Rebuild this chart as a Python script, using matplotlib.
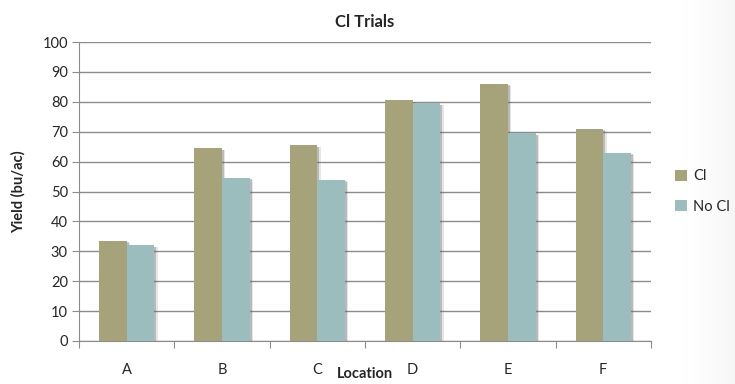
import numpy as np
import matplotlib
matplotlib.use('Agg')
import matplotlib.pyplot as plt
import matplotlib.patheffects as pe

plt.rcParams['font.family'] = ['Lato', 'DejaVu Sans']

# 各地點產量 (bu/ac)
locations = ['A', 'B', 'C', 'D', 'E', 'F']
cl_yield = [33.5, 64.5, 65.5, 80.5, 86, 71]
nocl_yield = [32, 54.5, 54, 79.5, 69.5, 63]
y_ticks = [0, 10, 20, 30, 40, 50, 60, 70, 80, 90, 100]

cl_color = '#A6A27A'
nocl_color = '#9CBDBD'
grid_color = '#8C8C8C'
text_color = '#262626'

fig = plt.figure(figsize=(7.35, 3.84), dpi=100)

# 右側淡灰漸層背景
bg = fig.add_axes([0, 0, 1, 1], zorder=-10)
grad = np.linspace(0, 1, 300)
grad = np.clip((grad - 0.92) / 0.08, 0, 1) ** 1.5
bg.imshow(grad[np.newaxis, :], aspect='auto', cmap='Greys', vmin=0, vmax=14,
          extent=[0, 1, 0, 1])
bg.set_axis_off()

ax = fig.add_axes([0.1075, 0.112, 0.778, 0.7785])
ax.patch.set_alpha(0)

x = np.arange(len(locations))
w = 0.29
# 柔和陰影: 疊兩層淡灰
shadow = [pe.SimplePatchShadow(offset=(2.5, -1.5), shadow_rgbFace='#777777', alpha=0.18),
          pe.SimplePatchShadow(offset=(1.5, -1), shadow_rgbFace='#555555', alpha=0.3),
          pe.Normal()]
b1 = ax.bar(x - w / 2, cl_yield, w, color=cl_color, label='Cl', zorder=3)
b2 = ax.bar(x + w / 2, nocl_yield, w, color=nocl_color, label='No Cl', zorder=3)
for b in list(b1) + list(b2):
    b.set_path_effects(shadow)

ax.set_xlim(-0.5, len(locations) - 0.5)
ax.set_ylim(0, 100)
ax.set_yticks(y_ticks)
ax.yaxis.grid(True, color=grid_color, linewidth=1.0, zorder=0)
ax.set_axisbelow(True)

# x 軸刻度放在類別分界
ax.set_xticks(np.arange(len(locations) + 1) - 0.5, minor=False)
ax.set_xticklabels([])
ax.set_xticks(x, minor=True)
ax.set_xticklabels(locations, minor=True)
ax.tick_params(axis='x', which='major', length=5, color=grid_color, direction='out')
ax.tick_params(axis='x', which='minor', length=0, pad=16, labelsize=10.5, labelcolor=text_color)
ax.tick_params(axis='y', length=5, color=grid_color, labelsize=10.5, labelcolor=text_color, pad=3)

for s in ['top', 'right']:
    ax.spines[s].set_visible(False)
for s in ['left', 'bottom']:
    ax.spines[s].set_color(grid_color)

ax.set_title('Cl Trials', fontsize=12, fontweight='bold', color=text_color, pad=11)
ax.set_xlabel('Location', fontsize=10.5, fontweight='bold', color=text_color, labelpad=-7)
ax.set_ylabel('Yield (bu/ac)', fontsize=10.5, fontweight='bold', color=text_color, labelpad=12)

leg = ax.legend(loc='center left', bbox_to_anchor=(1.02, 0.5), frameon=False, fontsize=10.5,
                handlelength=0.8, handleheight=0.8, handletextpad=0.4, labelspacing=1.1,
                labelcolor=text_color)
for h in leg.legend_handles:
    h.set_path_effects([])

fig.savefig('out.png', dpi=100)
